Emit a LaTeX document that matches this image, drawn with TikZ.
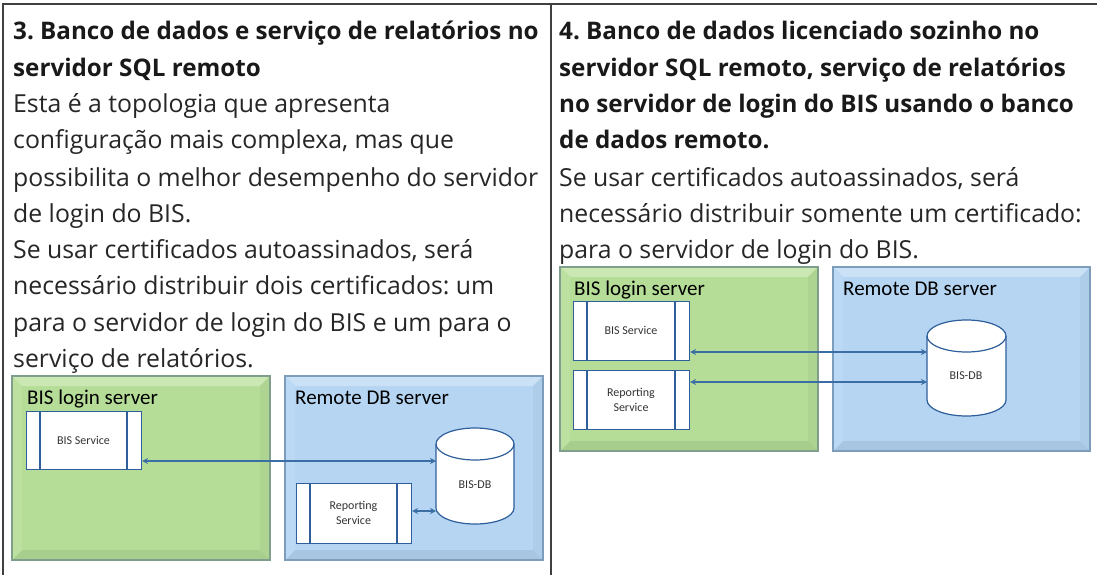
\documentclass[tikz,border=0pt]{standalone}
\usepackage{fontspec}
\setmainfont{Open Sans}
\newfontfamily\dfont{Carlito}
\usetikzlibrary{shapes.geometric,arrows.meta}
\definecolor{gmain}{HTML}{B5DD97}
\definecolor{bmain}{HTML}{B5D5F3}
\definecolor{gedge}{HTML}{7F9E8C}
\definecolor{bedge}{HTML}{7C9DBB}
\definecolor{lnblue}{HTML}{2F5F9A}
\definecolor{arblue}{HTML}{3A6EA5}
\tikzset{
 x=1pt,y=-1pt,
 bodytxt/.style={anchor=base west,inner sep=0pt,font=\fontsize{24.8}{28}\selectfont\frenchspacing,text=black!85},
 headtxt/.style={anchor=base west,inner sep=0pt,font=\fontsize{24.2}{28}\selectfont\bfseries\frenchspacing,text=black!90},
 paneltitle/.style={anchor=base west,inner sep=0pt,font=\dfont\fontsize{21}{24}\selectfont,text=black},
 smalltxt/.style={align=center,inner sep=0pt,font=\dfont\fontsize{12}{15}\selectfont,text=black!80},
 svc/.style={draw=lnblue,fill=white,line width=1.1pt},
 link/.style={draw=arblue,line width=1.1pt,{Stealth[length=6pt,width=6pt]}-{Stealth[length=6pt,width=6pt]}},
 grid/.style={draw=black!75,line width=1.1pt},
}
\newcommand{\panel}[6]{% x1 y1 x2 y2 main dark
 \fill[#5] (#1,#2) rectangle (#3,#4);
 \fill[#5!72!white] (#1,#2) -- (#3,#2) -- (#3-10,#2+10) -- (#1+10,#2+10) -- cycle;
 \fill[#5!96!black] (#3,#2) -- (#3,#4) -- (#3-10,#4-10) -- (#3-10,#2+10) -- cycle;
 \fill[#5!93!black] (#1,#4) -- (#3,#4) -- (#3-10,#4-10) -- (#1+10,#4-10) -- cycle;
 \fill[#5!92!white] (#1,#2) -- (#1,#4) -- (#1+10,#4-10) -- (#1+10,#2+10) -- cycle;
 \draw[#6,line width=1.6pt] (#1,#2) rectangle (#3,#4);
}
\newcommand{\svcbox}[6]{% name x1 y1 x2 y2 text
 \node[svc,minimum width=#4-#2,minimum height=#5-#3,anchor=north west,inner sep=0pt] (#1) at (#2,#3) {};
 \draw[lnblue,line width=1.1pt] (#2+14,#3) -- (#2+14,#5) (#4-14,#3) -- (#4-14,#5);
 \node[smalltxt] (#1t) at ({(#2+#4)/2},{(#3+#5)/2}) {#6};
}
\newcommand{\dbcyl}[5]{% name x1 ytop x2 ybot
 \fill[white,draw=lnblue,line width=1.2pt] (#2,#3+16) arc[x radius={(#4-#2)/2},y radius=16,start angle=180,end angle=360]
  -- (#4,#5-16) arc[x radius={(#4-#2)/2},y radius=16,start angle=0,end angle=180] -- cycle;
 \draw[lnblue,line width=1.2pt] (#2,#3+16) arc[x radius={(#4-#2)/2},y radius=16,start angle=180,end angle=0];
 \coordinate (#1) at ({(#2+#4)/2},{(#3+#5)/2});
}
\begin{document}
\begin{tikzpicture}
\useasboundingbox (0,0) rectangle (1097,575);
\fill[white] (0,0) rectangle (1097,575);
\draw[grid] (3,575) -- (3,4) -- (1097,4);
\draw[grid] (551,4) -- (551,575);
% left text
\node[headtxt] (l1) at (13,40) {3. Banco de dados e serviço de relatórios no};
\node[headtxt] (l2) at (13,77) {servidor SQL remoto};
\node[bodytxt] (l3) at (13,113) {Esta é a topologia que apresenta};
\node[bodytxt] (l4) at (13,149) {configuração mais complexa, mas que};
\node[bodytxt] (l5) at (13,186) {possibilita o melhor desempenho do servidor};
\node[bodytxt] (l6) at (13,222) {de login do BIS.};
\node[bodytxt] (l7) at (13,258) {Se usar certificados autoassinados, será};
\node[bodytxt] (l8) at (13,294) {necessário distribuir dois certificados: um};
\node[bodytxt] (l9) at (13,331) {para o servidor de login do BIS e um para o};
\node[bodytxt] (l10) at (13,367) {serviço de relatórios.};
% right text
\node[headtxt] (r1) at (559,40) {4. Banco de dados licenciado sozinho no};
\node[headtxt] (r2) at (559,77) {servidor SQL remoto, serviço de relatórios};
\node[headtxt] (r3) at (559,113) {no servidor de login do BIS usando o banco};
\node[headtxt] (r4) at (559,149) {de dados remoto.};
\node[bodytxt] (r5) at (559,186) {Se usar certificados autoassinados, será};
\node[bodytxt] (r6) at (559,222) {necessário distribuir somente um certificado:};
\node[bodytxt] (r7) at (559,258) {para o servidor de login do BIS.};
% left diagram
\panel{12}{376}{270}{560}{gmain}{gedge}
\panel{285}{376}{543}{560}{bmain}{bedge}
\node[paneltitle] (lg) at (27,404) {BIS login server};
\node[paneltitle] (lb) at (295,404) {Remote DB server};
\svcbox{la}{26}{411}{141}{469}{BIS Service}
\svcbox{lc}{296}{483}{411}{543}{Reporting\\Service}
\dbcyl{ld}{436}{428}{514}{524}
\node[smalltxt] (ldt) at (475,485) {BIS-DB};
\coordinate (lp) at (436,461);
\coordinate (lq) at (436,511);
\draw[link] (la.east |- lp) -- (lp);
\draw[link] (lc.east |- lq) -- (lq);
% right diagram
\panel{560}{267}{818}{451}{gmain}{gedge}
\panel{833}{267}{1090}{451}{bmain}{bedge}
\node[paneltitle] (rg) at (574,295) {BIS login server};
\node[paneltitle] (rb) at (843,295) {Remote DB server};
\svcbox{ra}{573}{301}{689}{360}{BIS Service}
\svcbox{rc}{573}{370}{689}{429}{Reporting\\Service}
\dbcyl{rd}{927}{320}{1006}{416}
\node[smalltxt] (rdt) at (966,376) {BIS-DB};
\coordinate (rp) at (927,352);
\coordinate (rq) at (927,382);
\draw[link] (ra.east |- rp) -- (rp);
\draw[link] (rc.east |- rq) -- (rq);
\end{tikzpicture}
\end{document}
